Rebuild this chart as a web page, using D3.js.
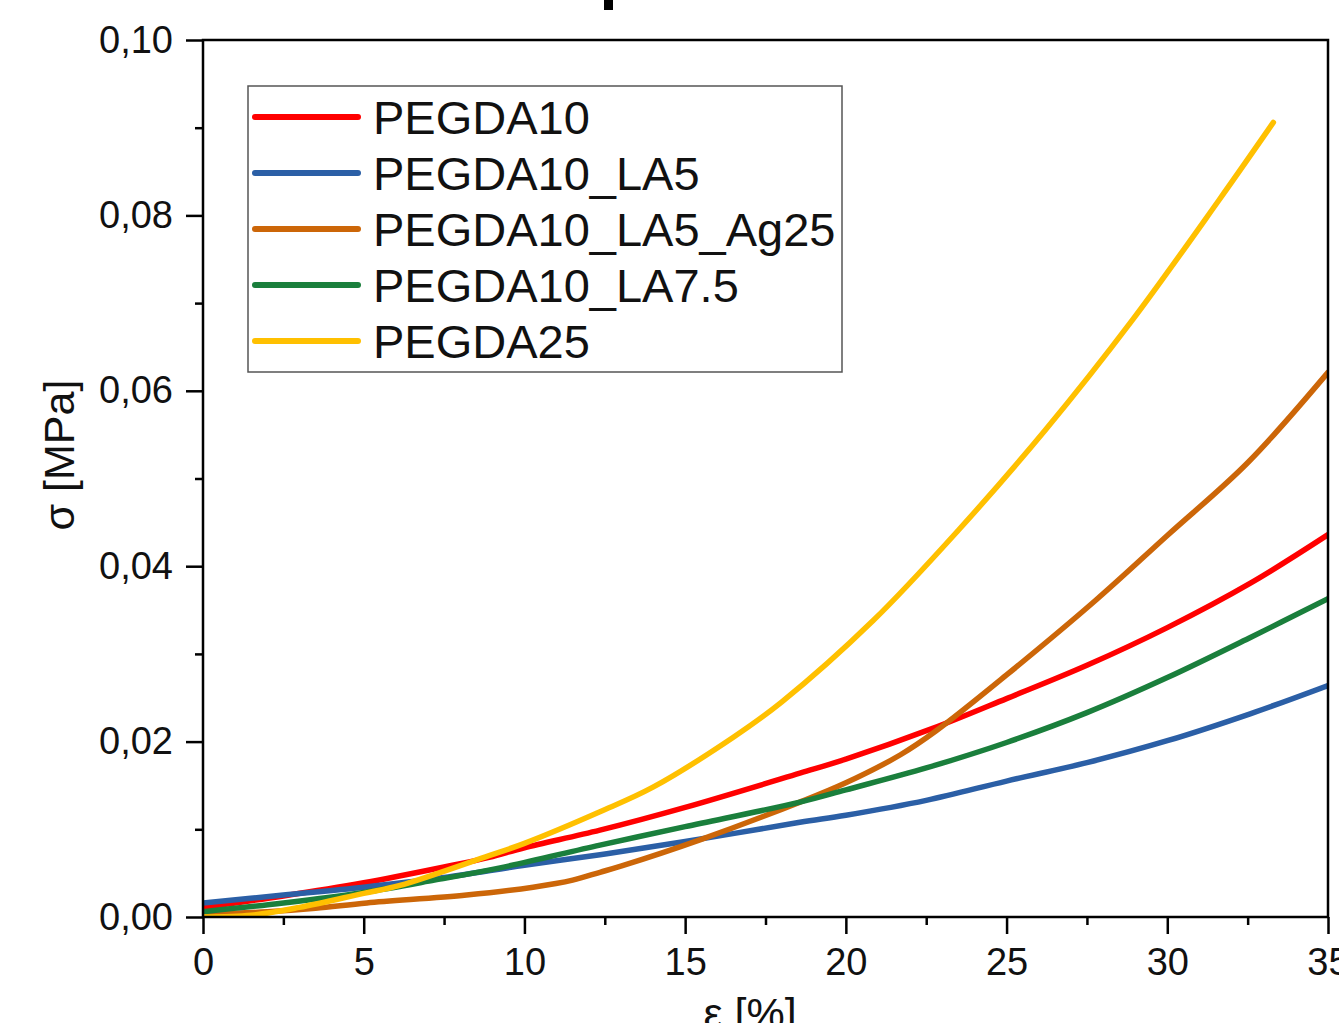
<!DOCTYPE html>
<html><head><meta charset="utf-8">
<script src="https://cdn.jsdelivr.net/npm/d3@7"></script>
<style>body{margin:0;background:#fff}svg{display:block}text{font-family:"Liberation Sans",Arial,sans-serif}</style>
</head><body>
<script>
const seriesNames = ["PEGDA10","PEGDA10_LA5","PEGDA10_LA5_Ag25","PEGDA10_LA7.5","PEGDA25"];
const seriesColors = ["#ff0000","#2b5fa6","#cc6608","#1a7f3c","#ffc000"];

const strainPEGDA10 = [0,2.5,5,7.5,8.9,10,12.35,15,18.57,20,22.7,25,27.5,30,32.6,35];
const stressPEGDA10 = [0.0011,0.0024,0.0039,0.0057,0.0068,0.0079,0.0099,0.0125,0.0164,0.0180,0.0215,0.0249,0.0287,0.0330,0.0381,0.0436];

const strainLA5 = [0,2.5,5,7.5,10,12.35,15,18.57,20,22.5,25,27.5,30,32.6,35];
const stressLA5 = [0.0016,0.0025,0.0034,0.0045,0.0059,0.0071,0.0086,0.0108,0.0116,0.0133,0.0155,0.0176,0.0201,0.0232,0.0264];

const strainAg25 = [0,2,3.5,5.1,8.2,10.27,11.5,12.35,13,15.46,18.57,20,21.7,22.8,25,27.8,30,32.5,35];
const stressAg25 = [0.0003,0.0006,0.0010,0.0016,0.0025,0.0034,0.0042,0.0051,0.0058,0.0088,0.0131,0.0153,0.0185,0.0212,0.0276,0.0362,0.0435,0.0518,0.0621];

const strainLA75 = [0,2.5,5,7.2,9.24,12.35,15,18.57,20,22.5,25,27.5,30,32.6,35];
const stressLA75 = [0.0006,0.0016,0.0028,0.0042,0.0056,0.0082,0.0103,0.0131,0.0145,0.0170,0.0199,0.0233,0.0273,0.0319,0.0363];

const strainPEGDA25 = [0,1.5,3,5,6.13,8.9,10,12.35,14,16.5,18,20.85,23.5,26.2,28.9,31.6,33.3];
const stressPEGDA25 = [0.0000,0.0002,0.0011,0.0027,0.0036,0.0070,0.0084,0.0120,0.0148,0.0205,0.0245,0.0338,0.0441,0.0555,0.0680,0.0817,0.0906];

const xTicks = [0,5,10,15,20,25,30,35];
const yTicks = [0,0.02,0.04,0.06,0.08,0.10];
const yTickLabels = ["0,00","0,02","0,04","0,06","0,08","0,10"];
const xLabel = "ε [%]";
const yLabel = "σ [MPa]";

const seriesX = [strainPEGDA10, strainLA5, strainAg25, strainLA75, strainPEGDA25];
const seriesY = [stressPEGDA10, stressLA5, stressAg25, stressLA75, stressPEGDA25];

const W = 1339, H = 1023;
const L = 203, R = 1328, T = 40, B = 917;
const svg = d3.select("body").append("svg").attr("width", W).attr("height", H);

const x = d3.scaleLinear().domain([0,35]).range([L,R]);
const y = d3.scaleLinear().domain([0,0.10]).range([B,T]);

svg.append("defs").append("clipPath").attr("id","clip")
  .append("rect").attr("x",L).attr("y",T).attr("width",R-L).attr("height",B-T);

// small artifact at top
svg.append("rect").attr("x",604).attr("y",0).attr("width",9).attr("height",10).attr("fill","#000");

// curves
const line = d3.line().x(d=>x(d[0])).y(d=>y(d[1])).curve(d3.curveCatmullRom.alpha(0.5));
const g = svg.append("g").attr("clip-path","url(#clip)");
seriesNames.forEach((n,i)=>{
  const pts = seriesX[i].map((v,j)=>[v, seriesY[i][j]]);
  g.append("path").attr("d", line(pts)).attr("fill","none")
    .attr("stroke", seriesColors[i]).attr("stroke-width",5.5)
    .attr("stroke-linecap","round").attr("stroke-linejoin","round");
});

// axes
const xAxis = d3.axisBottom(x).tickValues(xTicks).tickSize(17).tickPadding(14).tickFormat(d3.format("d"));
const xMinor = d3.axisBottom(x).tickValues(d3.range(2.5,35,5)).tickSize(8).tickFormat("");
const yAxis = d3.axisLeft(y).tickValues(yTicks).tickSize(17).tickPadding(13).tickFormat((d,i)=>yTickLabels[i]);
const yMinor = d3.axisLeft(y).tickValues(d3.range(0.01,0.1,0.02)).tickSize(8).tickFormat("");

function styleAxis(sel){
  sel.select(".domain").remove();
  sel.selectAll("line").attr("stroke","#000").attr("stroke-width",2.5);
  sel.selectAll("text").attr("fill","#111").style("font-size","38px").style("font-family",'"Liberation Sans",Arial,sans-serif');
}
svg.append("g").attr("transform",`translate(0,${B})`).call(xAxis).call(styleAxis);
svg.append("g").attr("transform",`translate(0,${B})`).call(xMinor).call(styleAxis);
svg.append("g").attr("transform",`translate(${L},0)`).call(yAxis).call(styleAxis);
svg.append("g").attr("transform",`translate(${L},0)`).call(yMinor).call(styleAxis);

// frame
svg.append("rect").attr("x",L).attr("y",T).attr("width",R-L).attr("height",B-T)
  .attr("fill","none").attr("stroke","#000").attr("stroke-width",2.5);

// axis labels
svg.append("text").attr("transform","translate(74,455) rotate(-90)").attr("text-anchor","middle")
  .style("font-size","43px").attr("fill","#111").text(yLabel);
svg.append("text").attr("x",750).attr("y",1028).attr("text-anchor","middle")
  .style("font-size","43px").attr("fill","#111").text(xLabel);

// legend
svg.append("rect").attr("x",248).attr("y",86).attr("width",594).attr("height",286)
  .attr("fill","#fff").attr("stroke","#555").attr("stroke-width",1.5);
seriesNames.forEach((n,i)=>{
  const yy = 117 + i*56;
  svg.append("line").attr("x1",255).attr("x2",358).attr("y1",yy).attr("y2",yy)
    .attr("stroke",seriesColors[i]).attr("stroke-width",6).attr("stroke-linecap","round");
  svg.append("text").attr("x",373).attr("y",yy+17).style("font-size","47px").attr("fill","#111").text(n);
});
</script>
</body></html>
